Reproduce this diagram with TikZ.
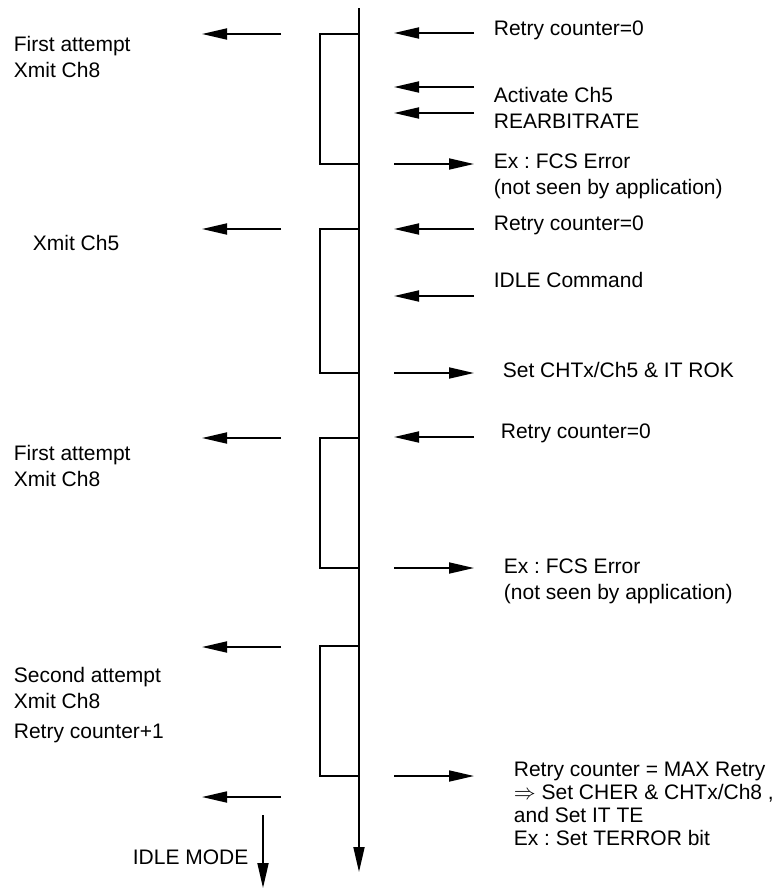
\documentclass[tikz,border=0pt]{standalone}
\usepackage{fontspec}
\setmainfont{Liberation Sans}
\usetikzlibrary{arrows.meta}
\frenchspacing
\tikzset{
    msg/.style={-{Triangle[length=12.5pt,width=5.5pt]}},
    lbl/.style={anchor=west, inner sep=0pt, align=left,
        font=\fontsize{10.5}{13}\selectfont},
}

\begin{document}
\begin{tikzpicture}[x=0.5pt,y=-0.5pt,line width=0.9pt]
        \useasboundingbox (0,0) rectangle (778,889);
        % time line and busy periods
        \draw[msg] (359,8) -- (359,872);
        \foreach \top/\bot in {34/164,229/373,438/568,646/776}
            \draw (320,\top) rectangle (359,\bot);
        % application side
        \foreach \y in {34,229,438,647,797}
            \draw[msg] (281,\y) -- (202,\y);
        \draw[msg] (263,815) -- (263,888);
        % controller side
        \foreach \y in {33,87,113,229,296,437}
            \draw[msg] (474,\y) -- (394,\y);
        \foreach \y in {164,373,568,776}
            \draw[msg] (394,\y) -- (474,\y);
        % left labels
        \node[lbl] (first1) at (13,57) {First attempt\\Xmit Ch8};
        \node[lbl] (xmit5) at (32,243) {Xmit Ch5};
        \node[lbl] (first2) at (13,466) {First attempt\\Xmit Ch8};
        \node[lbl] (second) at (13,688) {Second attempt\\Xmit Ch8};
        \node[lbl] (incr) at (13,733) {Retry counter+1};
        \node[lbl] (idlemode) at (132,857) {IDLE MODE};
        % right labels
        \node[lbl] (retry1) at (493,30) {Retry counter=0};
        \node[lbl] (activ) at (493,108) {Activate Ch5\\REARBITRATE};
        \node[lbl] (fcs1) at (493,176) {Ex : FCS Error\\(not seen by application)};
        \node[lbl] (retry2) at (493,225) {Retry counter=0};
        \node[lbl] (idlecmd) at (493,280) {IDLE Command};
        \node[lbl] (rok) at (502,370) {Set CHTx/Ch5 \& IT ROK};
        \node[lbl] (retry3) at (500,433) {Retry counter=0};
        \node[lbl] (fcs2) at (503,581) {Ex : FCS Error\\(not seen by application)};
        \node[lbl,font=\fontsize{10.5}{11.5}\selectfont] (maxretry) at (513,804)
            {Retry counter = MAX Retry\\$\Rightarrow$ Set CHER \& CHTx/Ch8 ,\\and Set IT TE\\Ex : Set TERROR bit};
    \end{tikzpicture}
\end{document}
